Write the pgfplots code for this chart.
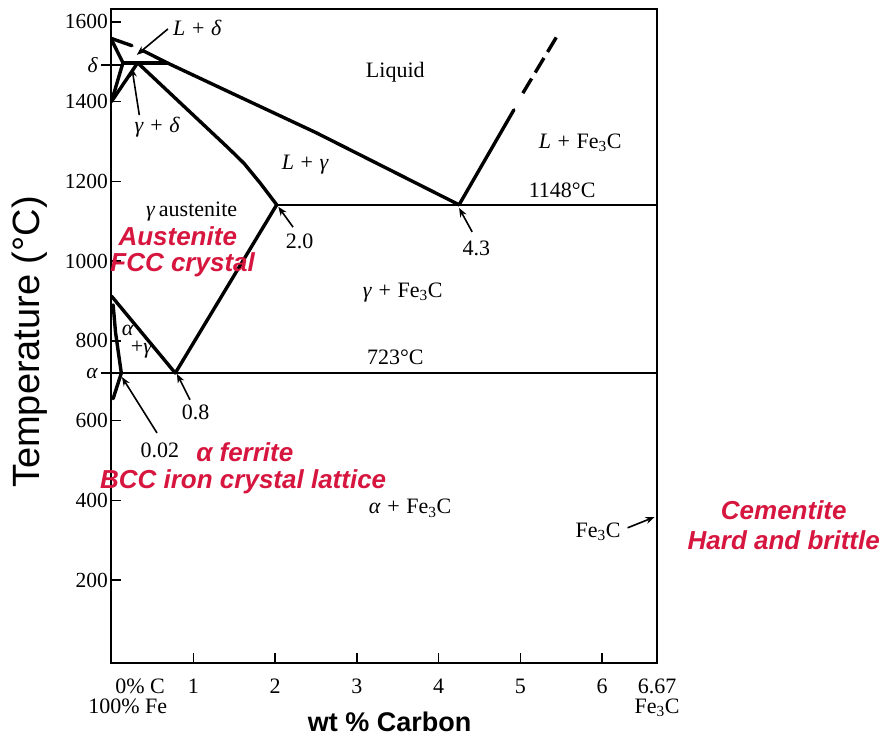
\documentclass[border=0pt]{standalone}
\usepackage{fontspec}
\setmainfont{Liberation Serif}
\newfontfamily\sansf{Liberation Sans}
\usepackage{pgfplots}
\pgfplotsset{compat=1.18}
\usetikzlibrary{arrows.meta}
\definecolor{redlab}{RGB}{214,22,62}
\tikzset{
  ph/.style={black, line width=3.4pt, line join=round, line cap=round},
  hl/.style={black, line width=2pt},
  arr/.style={black, line width=1.6pt, -{Stealth[length=9pt,width=7pt]}},
  lab/.style={font=\fontsize{22}{24}\selectfont},
  redl/.style={font=\sansf\bfseries\itshape\fontsize{26}{28}\selectfont, text=redlab},
}
\newcommand{\pl}{\hspace{0.3em}+\hspace{0.3em}}
\begin{document}
\begin{tikzpicture}
\path[use as bounding box] (-111.5pt,-73pt) rectangle (774.5pt,663pt);
\begin{axis}[
  at={(0pt,0pt)}, anchor=south west,
  scale only axis, width=545.5pt, height=654pt,
  xmin=0, xmax=6.67, ymin=-8, ymax=1632,
  clip=false,
  axis line style={line width=2pt},
  tick pos=left, tick align=inside,
  major tick length=10pt,
  tick style={black, line width=1.5pt},
  xtick={1,2,3,4,5,6}, xticklabels={},
  ytick={200,400,600,800,1000,1200,1400,1600},
  yticklabels={200,400,600,800,1000,1200,1400,1600},
  extra y ticks={719,1492},
  extra y tick labels={\textit{α},\textit{δ}},
  extra y tick style={tick align=center, major tick length=20pt},
  ticklabel style={font=\fontsize{21.5}{22}\selectfont},
]
% phase boundaries
\addplot[ph] coordinates {(0,1558)(0.25,1540)};
\addplot[ph] coordinates {(0.38,1528)(0.68,1497)(1.5,1418)(2.5,1322)(4.25,1141)};
\addplot[ph] coordinates {(0.14,1497)(0.68,1497)};
\addplot[ph] coordinates {(0,1555)(0.14,1497)(0,1400)};
\addplot[ph] coordinates {(0,1400)(0.32,1497)};
\addplot[ph] coordinates {(0.32,1497)(1.42,1285)(1.62,1245)(1.82,1195)(2.02,1141)};
\addplot[ph] coordinates {(2.02,1141)(0.78,719)};
\addplot[ph] coordinates {(0,912)(0.78,719)};
\addplot[ph] coordinates {(0.02,890)(0.05,820)(0.12,719)(0.02,655)};
\addplot[hl] coordinates {(0,719)(6.67,719)};
\addplot[hl] coordinates {(2.02,1141)(6.67,1141)};
\addplot[ph] coordinates {(4.25,1141)(4.92,1379)};
\addplot[ph, line cap=butt, dash pattern=on 17pt off 7pt] coordinates {(5.03,1421)(5.48,1575)};
% arrows
\addplot[arr] coordinates {(0.556,569)(0.128,709)};
\addplot[arr] coordinates {(0.96,652)(0.80,717)};
\addplot[arr] coordinates {(2.22,1085)(2.04,1136)};
\addplot[arr] coordinates {(4.41,1073)(4.25,1133)};
\addplot[arr] coordinates {(6.31,331)(6.64,358)};
\addplot[arr] coordinates {(0.69,1582)(0.31,1517)};
\addplot[arr] coordinates {(0.34,1366)(0.25,1484)};
% labels
\node[lab] at (axis cs:3.47,1474) {Liquid};
\node[lab] at (axis cs:2.37,1241) {\textit{L}\pl\textit{γ}};
\node[lab] at (axis cs:5.73,1297) {\textit{L}\pl Fe\textsubscript{3}C};
\node[lab] at (axis cs:5.51,1178) {1148°C};
\node[lab] at (axis cs:0.98,1123) {\textit{γ}\,austenite};
\node[lab] at (axis cs:3.56,922) {\textit{γ}\pl Fe\textsubscript{3}C};
\node[lab] at (axis cs:3.47,759) {723°C};
\node[lab] at (axis cs:0.20,827) {\textit{α}};
\node[lab] at (axis cs:0.37,777) {+\textit{γ}};
\node[lab] at (axis cs:0.59,526) {0.02};
\node[lab] at (axis cs:1.03,621) {0.8};
\node[lab] at (axis cs:2.30,1050) {2.0};
\node[lab] at (axis cs:4.46,1032) {4.3};
\node[lab] at (axis cs:3.65,380) {\textit{α}\pl Fe\textsubscript{3}C};
\node[lab] at (axis cs:5.95,320) {Fe\textsubscript{3}C};
\node[lab] at (axis cs:1.05,1585) {\textit{L}\pl\textit{δ}};
\node[lab] at (axis cs:0.56,1336) {\textit{γ}\pl\textit{δ}};
\node[redl] at (axis cs:0.81,1061) {Austenite};
\node[redl] at (axis cs:0.87,990) {FCC crystal};
\node[redl] at (axis cs:1.63,521) {α ferrite};
\node[redl] at (axis cs:1.61,446) {BCC iron crystal lattice};
\node[redl] at (axis cs:8.22,376) {Cementite};
\node[redl] at (axis cs:8.22,300) {Hard and brittle};
% x tick labels
\node[lab] at (axis cs:1,-66) {1};
\node[lab] at (axis cs:2,-66) {2};
\node[lab] at (axis cs:3,-66) {3};
\node[lab] at (axis cs:4,-66) {4};
\node[lab] at (axis cs:5,-66) {5};
\node[lab] at (axis cs:6,-66) {6};
\node[lab] at (axis cs:0.35,-66) {0\% C};
\node[lab] at (axis cs:0.20,-116) {100\% Fe};
\node[lab] at (axis cs:6.67,-66) {6.67};
\node[lab] at (axis cs:6.67,-121) {Fe\textsubscript{3}C};
% axis titles
\node[rotate=90, font=\sansf\fontsize{38}{38}\selectfont] at (axis cs:-0.996,797) {Temperature (°C)};
\node[font=\sansf\bfseries\fontsize{27}{27}\selectfont] at (axis cs:3.40,-156) {wt \% Carbon};
\end{axis}
\end{tikzpicture}
\end{document}
